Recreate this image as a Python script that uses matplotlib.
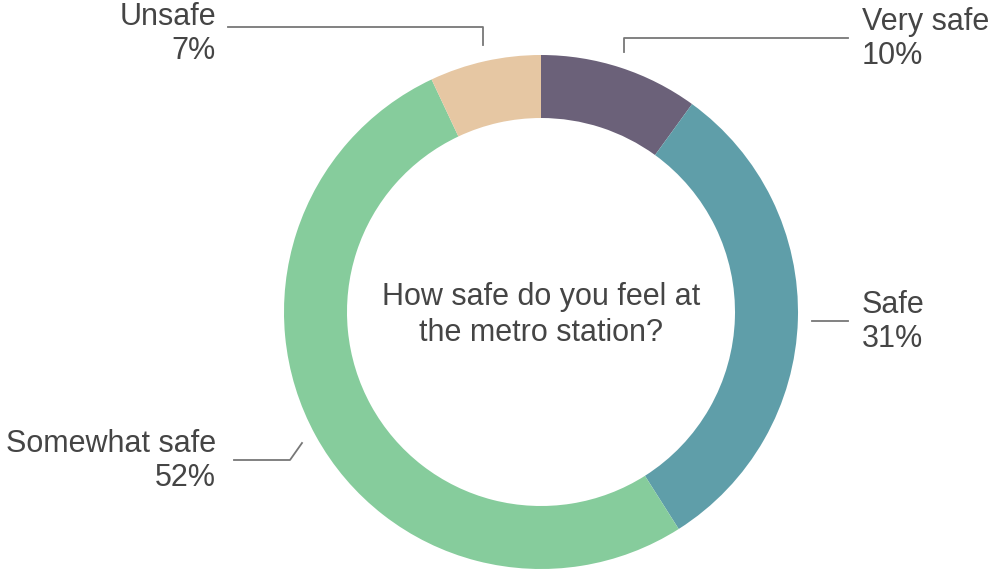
import matplotlib.pyplot as plt

labels = ["Very safe", "Safe", "Somewhat safe", "Unsafe"]
values = [10, 31, 52, 7]
colors = ["#6b6179", "#5f9ea9", "#86cc9c", "#e6c7a3"]

W, H = 990, 574


def main():
    plt.rcParams['font.family'] = ['Liberation Sans', 'DejaVu Sans']
    fig = plt.figure(figsize=(W / 100, H / 100), dpi=100)
    ax = fig.add_axes([0, 0, 1, 1])

    cx, cy, r = 541, H - 312, 257
    ax.pie(values, colors=colors, startangle=90, counterclock=False,
           center=(cx, cy), radius=r, frame=True,
           wedgeprops=dict(width=63, linewidth=0))
    ax.set_xlim(0, W)
    ax.set_ylim(0, H)
    ax.axis('off')

    txt = dict(fontsize=22, color="#454545")
    lc = dict(color="#777777", lw=1.3)

    ax.text(cx, H - 315, "How safe do you feel at\nthe metro station?",
            ha='center', va='center', linespacing=1.25, **txt)

    # leader lines (pixel coords, y flipped)
    def line(xs, ys):
        ax.plot(xs, [H - y for y in ys], **lc)

    line([624, 624, 848], [52, 38, 38])
    line([483, 483, 228], [45, 27, 27])
    line([812, 848], [321, 321])
    line([302, 290, 234], [443, 460, 460])

    pct = [f"{v}%" for v in values]
    ax.text(862, H - 39, f"{labels[0]}\n{pct[0]}", ha='left', va='center',
            linespacing=1.2, **txt)
    ax.text(862, H - 322, f"{labels[1]}\n{pct[1]}", ha='left', va='center',
            linespacing=1.2, **txt)
    ax.text(216, H - 461, f"{labels[2]}\n{pct[2]}", ha='right', va='center',
            linespacing=1.2, multialignment='right', **txt)
    ax.text(216, H - 34, f"{labels[3]}\n{pct[3]}", ha='right', va='center',
            linespacing=1.2, multialignment='right', **txt)

    fig.savefig("out.png", dpi=100)


if __name__ == "__main__":
    main()
